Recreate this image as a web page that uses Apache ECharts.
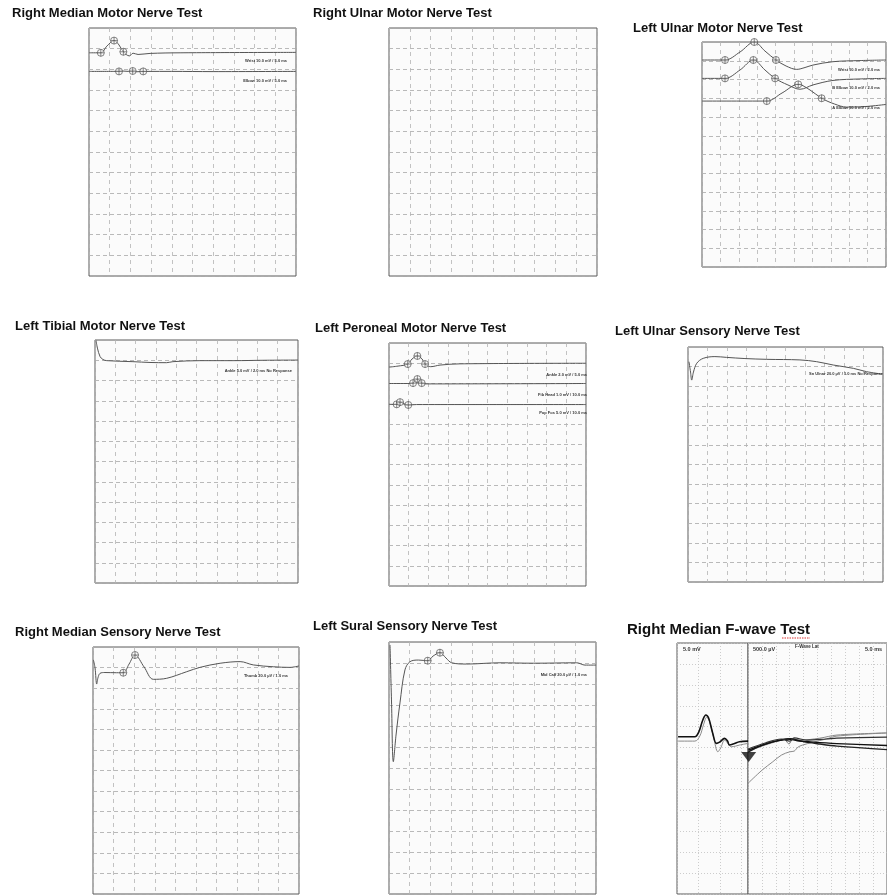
<!DOCTYPE html>
<html><head><meta charset="utf-8">
<script src="https://cdn.jsdelivr.net/npm/echarts/dist/echarts.min.js"></script>
<style>html,body{margin:0;padding:0;background:#fff}#c{width:887px;height:895px}</style>
</head><body><div id="c"></div><script>
// ---------- titles ----------
var panelTitles = [
  'Right Median Motor Nerve Test', 'Right Ulnar Motor Nerve Test', 'Left Ulnar Motor Nerve Test',
  'Left Tibial Motor Nerve Test', 'Left Peroneal Motor Nerve Test', 'Left Ulnar Sensory Nerve Test',
  'Right Median Sensory Nerve Test', 'Left Sural Sensory Nerve Test', 'Right Median F-wave Test'
];
// ---------- trace labels ----------
var p1Labels = ['Wrist 10.0 mV / 5.0 ms', 'Elbow 10.0 mV / 5.0 ms'];
var p3Labels = ['Wrist 10.0 mV / 2.0 ms', 'B Elbow 10.0 mV / 2.0 ms', 'A Elbow 10.0 mV / 2.0 ms'];
var p4Labels = ['Ankle 5.0 mV / 2.0 ms No Response'];
var p5Labels = ['Ankle 2.0 mV / 5.0 ms', 'Fib Head 1.0 mV / 10.0 ms', 'Pop Fos 5.0 mV / 10.0 ms'];
var p6Labels = ['Sn Ulnar 20.0 \u00b5V / 1.0 ms No Response'];
var p7Labels = ['Thumb 20.0 \u00b5V / 1.0 ms'];
var p8Labels = ['Mid Calf 20.0 \u00b5V / 1.0 ms'];
var p9Labels = ['5.0 mV', '500.0 \u00b5V', 'F-Wave Lat', '5.0 ms'];

// ---------- data (x = divisions, y = divisions from bottom) ----------
// Panel 1: Right Median Motor
var p1Wrist = [[0,10.8],[0.57,10.8],[0.87,11.13],[1.21,11.39],[1.45,11.18],[1.66,10.85],[1.95,10.65],[2.13,10.78],[2.37,10.72],[2.95,10.77],[4.4,10.8],[10,10.82]];
var p1WristMarks = [[0.57,10.8],[1.21,11.39],[1.66,10.85]];
var p1Elbow = [[0,9.9],[1.2,9.9],[1.6,9.92],[2.2,9.88],[2.8,9.9],[4,9.9],[6,9.89],[10,9.9]];
var p1ElbowMarks = [[1.45,9.9],[2.11,9.92],[2.62,9.9]];
// Panel 3: Left Ulnar Motor
var p3Wrist = [[0,11.04],[1.25,11.04],[2.07,11.47],[2.84,12.0],[3.42,11.52],[4.02,11.04],[4.57,10.72],[5.15,10.54],[5.6,10.64],[6.03,10.77],[7.12,10.95],[8.59,11.01],[10,11.04]];
var p3WristMarks = [[1.25,11.04],[2.84,12.0],[4.02,11.04]];
var p3BElbow = [[0,10.06],[1.25,10.06],[2.07,10.51],[2.79,11.04],[3.42,10.51],[3.97,10.06],[4.67,9.71],[5.33,9.48],[6.03,9.71],[7.12,9.95],[8.59,10.03],[10,10.06]];
var p3BElbowMarks = [[1.25,10.06],[2.79,11.04],[3.97,10.06]];
var p3AElbow = [[0,8.85],[3.52,8.85],[4.35,9.28],[5.23,9.74],[5.87,9.44],[6.5,9.0],[7.21,8.69],[7.86,8.53],[8.91,8.56],[10,8.67]];
var p3AElbowMarks = [[3.52,8.85],[5.23,9.74],[6.5,9.0]];
// Panel 4: Left Tibial Motor
var p4Ankle = [[0.05,11.98],[0.12,11.6],[0.25,11.18],[0.39,11.04],[0.58,10.98],[1.87,10.93],[2.71,10.89],[3.53,10.88],[3.84,10.93],[5.17,10.98],[6.8,10.98],[8.37,11.0],[10,11.01]];
// Panel 5: Left Peroneal Motor
var p5Ankle = [[0,10.81],[0.46,10.86],[0.95,10.96],[1.17,11.21],[1.44,11.36],[1.68,11.21],[1.83,10.96],[2.12,10.83],[2.59,10.91],[3.6,10.97],[10,11.0]];
var p5AnkleMarks = [[0.95,10.96],[1.44,11.36],[1.83,10.96]];
var p5FibHead = [[0,10.0],[1.07,10.0],[1.22,10.02],[1.44,10.22],[1.66,10.02],[1.88,9.98],[10,10.0]];
var p5FibHeadMarks = [[1.22,10.02],[1.44,10.22],[1.66,10.02]];
var p5PopFos = [[0,8.97],[0.39,8.97],[0.56,9.08],[0.76,9.0],[0.98,8.94],[1.4,8.96],[10,8.96]];
var p5PopFosMarks = [[0.39,8.97],[0.56,9.08],[0.98,8.94]];
// Panel 6: Left Ulnar Sensory
var p6Ulnar = [[0.05,11.25],[0.13,10.72],[0.19,10.31],[0.28,10.72],[0.45,11.17],[0.78,11.42],[1.38,11.51],[1.98,11.47],[2.92,11.41],[4.04,11.37],[5.74,11.34],[6.6,11.25],[7.45,11.08],[8.48,10.91],[9.16,10.74],[9.93,10.62]];
// Panel 7: Right Median Sensory
var p7Thumb = [[0.02,11.37],[0.1,10.98],[0.18,10.2],[0.24,10.5],[0.34,10.72],[0.58,10.76],[1.15,10.75],[1.47,10.75],[1.75,11.17],[2.04,11.61],[2.48,11.03],[2.93,10.43],[3.58,10.48],[4.55,10.8],[5.19,11.01],[6.17,11.21],[7.14,11.29],[7.78,11.13],[8.75,11.04],[9.56,11.01],[10,11.08]];
var p7ThumbMarks = [[1.47,10.75],[2.04,11.61]];
// Panel 8: Left Sural Sensory
var p8Calf = [[0.05,11.86],[0.12,9.24],[0.21,6.3],[0.34,7.57],[0.53,9.1],[0.77,10.67],[1.01,11.06],[1.42,11.14],[1.87,11.11],[2.13,11.33],[2.46,11.49],[2.75,11.24],[3.03,11.01],[3.75,10.95],[5.36,11.01],[6.97,10.99],[9.07,11.01],[9.47,10.9],[10,10.9]];
var p8CalfMarks = [[1.87,11.11],[2.46,11.49]];
// Panel 9: Right Median F-wave (left = M-wave, right = F-waves)
var p9MBlack = [[0.05,7.52],[0.83,7.52],[1.01,7.74],[1.2,8.32],[1.34,8.56],[1.47,8.41],[1.66,7.69],[1.83,7.2],[1.98,7.26],[2.21,7.44],[2.35,7.31],[2.44,7.12],[2.67,7.19],[2.9,7.28],[3.3,7.31]];
var p9MGrey = [[0.05,7.31],[0.83,7.31],[1.06,7.55],[1.24,8.12],[1.38,8.45],[1.52,8.22],[1.71,7.45],[1.9,6.8],[2.03,6.98],[2.21,7.36],[2.35,7.22],[2.52,7.04],[2.72,7.07],[2.9,7.12],[3.3,7.2]];
var p9F1 = [[0,6.78],[0.55,6.98],[1.47,7.22],[2.4,7.36],[3.09,7.43],[3.78,7.31],[5.16,7.17],[6.4,7.07],[10,6.9]];
var p9F2 = [[0,6.88],[1.01,7.12],[2.17,7.33],[2.86,7.41],[3.55,7.33],[4.7,7.26],[6.4,7.19],[10,7.1]];
var p9F3 = [[0,6.93],[1.24,7.22],[2.4,7.41],[3.0,7.31],[3.32,7.46],[4.24,7.36],[5.62,7.41],[6.4,7.45],[10,7.5]];
var p9F4 = [[0,6.83],[1.47,7.17],[2.63,7.36],[2.95,7.17],[3.23,7.41],[3.78,7.36],[5.16,7.45],[6.4,7.6],[10,7.7]];
var p9F5 = [[0,5.29],[1.01,5.92],[1.78,6.32],[2.4,6.64],[3.01,6.8],[3.32,6.83],[3.59,7.02],[3.92,7.12],[4.7,7.26],[5.62,7.41],[6.4,7.55],[10,7.7]];
var p9Stim = [[0.05,6.55]];

// ---------- layout ----------
var grids = [
  {left:89, top:28, width:207, height:248},
  {left:389, top:28, width:208, height:248},
  {left:702, top:42, width:184, height:225},
  {left:95, top:340, width:203, height:243},
  {left:389, top:343, width:197, height:243},
  {left:688, top:347, width:195, height:235},
  {left:93, top:647, width:206, height:247},
  {left:389, top:642, width:207, height:252},
  {left:677, top:643, width:71, height:251},
  {left:748, top:643, width:217, height:251}
];
var titlePos = [[12,7,13],[313,7,13],[633,22,13],[15,320,13],[315,322,13],[615,325,13],[15,626,13],[313,620,13],[627,622,15]];

var option = {
  backgroundColor:'#fff',
  animation:false,
  title: panelTitles.map(function(t,i){
    return {text:t, left:titlePos[i][0], top:titlePos[i][1], padding:0,
      textStyle:{fontFamily:'Liberation Sans, Arial, sans-serif', fontWeight:'bold', fontSize:titlePos[i][2], color:'#111'}};
  }),
  grid: grids.map(function(g){
    return {left:g.left, top:g.top, width:g.width, height:g.height, show:true,
      borderColor:'#5a5a5a', borderWidth:1, backgroundColor:'#fbfbfb', containLabel:false};
  }),
  xAxis: grids.map(function(g,i){
    var fw = i >= 8;
    return {type:'value', gridIndex:i, min:0, max:(i===8?3.3:10), interval:1,
      axisLine:{show:false}, axisTick:{show:false}, axisLabel:{show:false},
      splitLine:{show:true, lineStyle:{color:fw?'#c0c0c0':'#b4b4b4', width:0.8, type:fw?[1,2]:[4,4]}}};
  }),
  yAxis: grids.map(function(g,i){
    var fw = i >= 8;
    return {type:'value', gridIndex:i, min:0, max:12, interval:1,
      axisLine:{show:false}, axisTick:{show:false}, axisLabel:{show:false},
      splitLine:{show:true, lineStyle:{color:fw?'#c0c0c0':'#a8a8a8', width:0.8, type:fw?[1,2]:[4,3]}}};
  }),
  series: [],
  graphic: []
};

var CROSS = 'path://M0,-10A10,10,0,1,1,0,10A10,10,0,1,1,0,-10ZM0,-10L0,10M-10,0L10,0';
function trace(gi, data, color, width){
  option.series.push({type:'line', xAxisIndex:gi, yAxisIndex:gi, data:data, showSymbol:false,
    symbol:'none', smooth:0.35, lineStyle:{color:color||'#555', width:width||1}, silent:true, z:3});
}
function marks(gi, data){
  option.series.push({type:'scatter', xAxisIndex:gi, yAxisIndex:gi, data:data, symbol:CROSS,
    symbolSize:7, clip:false, itemStyle:{color:'rgba(250,250,250,0.7)', borderColor:'#444', borderWidth:0.8}, silent:true, z:4});
}
function label(text, x, y, align, size){
  option.graphic.push({type:'text', x:x, y:y, z:10, style:{text:text, fill:'#333', fontSize:size||4,
    fontWeight:'bold', fontFamily:'Liberation Sans, Arial, sans-serif', align:align||'right', verticalAlign:'middle'}});
}

trace(0,p1Wrist); marks(0,p1WristMarks);
trace(0,p1Elbow); marks(0,p1ElbowMarks);
label(p1Labels[0],287,61); label(p1Labels[1],287,81);

trace(2,p3Wrist); marks(2,p3WristMarks);
trace(2,p3BElbow); marks(2,p3BElbowMarks);
trace(2,p3AElbow); marks(2,p3AElbowMarks);
label(p3Labels[0],880,70); label(p3Labels[1],880,88); label(p3Labels[2],880,108);

trace(3,p4Ankle);
label(p4Labels[0],292,371);

trace(4,p5Ankle); marks(4,p5AnkleMarks);
trace(4,p5FibHead); marks(4,p5FibHeadMarks);
trace(4,p5PopFos); marks(4,p5PopFosMarks);
label(p5Labels[0],587,375); label(p5Labels[1],587,395); label(p5Labels[2],587,413);

trace(5,p6Ulnar);
label(p6Labels[0],883,374);

trace(6,p7Thumb); marks(6,p7ThumbMarks);
label(p7Labels[0],288,676);

trace(7,p8Calf); marks(7,p8CalfMarks);
label(p8Labels[0],587,675);

trace(8,p9MGrey,'#8a8a8a',1);
trace(8,p9MBlack,'#111',1.6);
trace(9,p9F5,'#8a8a8a',1);
trace(9,p9F4,'#888',1);
trace(9,p9F1,'#222',1.4);
trace(9,p9F2,'#111',1.4);
trace(9,p9F3,'#333',1.2);
option.series.push({type:'scatter', xAxisIndex:9, yAxisIndex:9, data:p9Stim, symbol:'triangle',
  symbolRotate:180, symbolSize:[15,10], clip:false, itemStyle:{color:'#111'}, silent:true, z:6});
label(p9Labels[0],683,649,'left',5.5); label(p9Labels[1],753,649,'left',5.5);
label(p9Labels[2],795,647,'left',4.5); label(p9Labels[3],865,649,'left',5.5);
option.graphic.push({type:'line', shape:{x1:782, y1:638, x2:810, y2:638}, z:10,
  style:{stroke:'#d33', lineWidth:1, lineDash:[1.5,1]}});

var chart = echarts.init(document.getElementById('c'), null, {renderer:'canvas'});
chart.setOption(option);
</script></body></html>
